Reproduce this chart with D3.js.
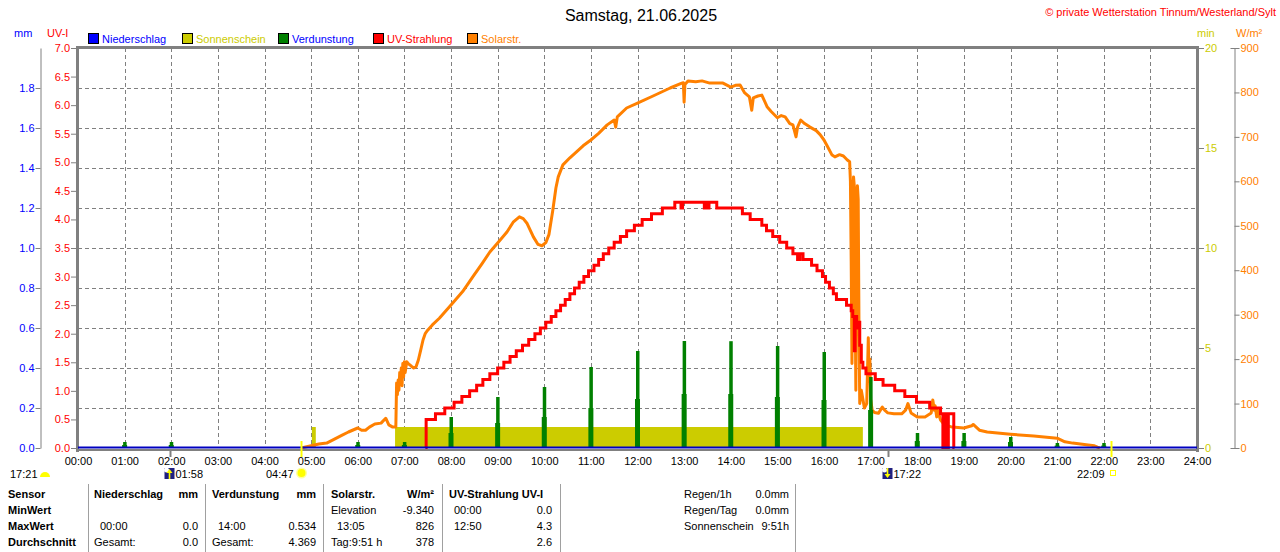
<!DOCTYPE html>
<html>
<head>
<meta charset="utf-8">
<script src="https://cdn.jsdelivr.net/npm/d3@7"></script>
<style>
body { margin: 0; background: #fff; }
svg { display: block; font-family: "Liberation Sans", Arial, sans-serif; font-size: 11px; }
</style>
</head>
<body>
<div id="chart"></div>
<script>
// ---- data ----
const title = "Samstag, 21.06.2025";
const credit = "\u00a9 private Wetterstation Tinnum/Westerland/Sylt";

const hourLabels = ["00:00","01:00","02:00","03:00","04:00","05:00","06:00","07:00","08:00",
    "09:00","10:00","11:00","12:00","13:00","14:00","15:00","16:00","17:00","18:00","19:00",
    "20:00","21:00","22:00","23:00","24:00"];

const uvTicks = [0, 0.5, 1, 1.5, 2, 2.5, 3, 3.5, 4, 4.5, 5, 5.5, 6, 6.5, 7];
const mmTicks = [0, 0.2, 0.4, 0.6, 0.8, 1.0, 1.2, 1.4, 1.6, 1.8];
const minTicks = [0, 5, 10, 15, 20];
const solTicks = [0, 100, 200, 300, 400, 500, 600, 700, 800, 900];

// Solarstrahlung W/m²
const solarTime = ["04:47","05:00","05:10","05:20","05:30","05:40","05:48","06:00","06:05","06:10",
    "06:15","06:22","06:30","06:36","06:40","06:45","06:49","06:50","06:51","06:52","06:53","06:54",
    "06:55","06:56","06:57","06:58","06:59","07:00","07:01","07:03","07:05","07:09","07:12","07:15",
    "07:18","07:21","07:24","07:27","07:30","07:36","07:45","08:00","08:15","08:28","08:40","08:50",
    "09:00","09:12","09:20","09:28","09:33","09:38","09:46","09:52","09:57","10:02","10:06","10:11",
    "10:15","10:18","10:24","10:33","10:50","11:00","11:10","11:21","11:30","11:32","11:34","11:46",
    "12:00","12:20","12:42","12:57","12:59","13:00","13:01","13:05","13:15","13:23","13:33","13:50",
    "14:00","14:06","14:12","14:18","14:24","14:27","14:29","14:35","14:40","14:47","14:52","15:00",
    "15:05","15:10","15:16","15:20","15:24","15:26","15:30","15:35","15:42","15:50","15:55","16:00",
    "16:04","16:10","16:14","16:20","16:25","16:30","16:33","16:34","16:35","16:36","16:37","16:38",
    "16:39","16:40","16:41","16:42","16:43","16:44","16:45","16:46","16:48","16:50","16:52","16:55",
    "16:57","16:58","16:59","17:00","17:02","17:05","17:10","17:15","17:18","17:22","17:30","17:40",
    "17:45","17:48","17:52","18:00","18:10","18:18","18:20","18:22","18:23","18:25","18:26","18:30",
    "18:35","18:45","19:00","19:10","19:12","19:20","19:30","20:00","20:30","21:00","21:10","21:20",
    "21:30","21:40","21:48","21:52","21:55"];
const solarValue = [0,5,9,11,20,29,36,45,40,40,
    47,54,56,67,52,47,47,146,120,153,130,170,
    150,180,140,190,160,194,170,194,190,184,180,183,
    198,220,243,258,265,277,292,322,352,385,415,441,
    461,486,508,520,516,505,475,458,455,462,480,535,
    585,610,637,653,680,693,708,727,738,722,745,765,
    776,792,810,821,822,778,818,826,824,826,821,821,
    812,816,817,799,790,760,788,792,794,767,757,743,
    748,745,730,727,700,722,738,730,722,714,705,693,
    680,660,655,660,657,648,644,600,420,190,560,610,
    590,350,130,560,590,560,280,100,130,110,90,100,
    248,150,200,110,85,80,78,92,85,79,77,77,
    85,100,79,70,70,79,108,85,95,70,85,63,
    52,47,45,50,53,40,36,31,27,22,14,11,
    9,7,5,2,0];

// UV-Strahlung UV-I (stepped)
const uvTime = ["07:27","07:28","07:40","07:52","08:04","08:14","08:24","08:33","08:41","08:50",
    "09:00","09:08","09:16","09:24","09:32","09:40","09:48","09:55","10:02","10:09","10:15",
    "10:21","10:27","10:33","10:39","10:45","10:51","10:57","11:04","11:10","11:16","11:23",
    "11:30","11:38","11:46","11:56","12:06","12:18","12:32","12:48","12:56","12:58","13:26",
    "13:28","13:30","13:32","13:42","14:15","14:25","14:40","14:46","14:54","15:03","15:12",
    "15:20","15:26","15:29","15:33","15:44","15:51","15:58","16:02","16:07","16:12","16:16",
    "16:29","16:35","16:37","16:39","16:40","16:42","16:44","16:46","16:48","16:50","16:54",
    "17:06","17:16","17:31","17:44","17:59","18:16","18:30","18:33","18:36","18:38","18:40",
    "18:47","18:48"];
const uvValue = [0,0.5,0.6,0.7,0.8,0.9,1.0,1.1,1.2,1.3,
    1.4,1.5,1.6,1.7,1.8,1.9,2.0,2.1,2.2,2.3,2.4,
    2.5,2.6,2.7,2.8,2.9,3.0,3.1,3.2,3.3,3.4,3.5,
    3.6,3.7,3.8,3.9,4.0,4.1,4.2,4.3,4.2,4.3,4.2,
    4.3,4.2,4.3,4.2,4.1,4.0,3.9,3.8,3.7,3.6,3.5,
    3.4,3.3,3.4,3.3,3.2,3.1,3.0,2.9,2.8,2.7,2.6,
    2.5,2.4,2.3,1.7,2.3,2.1,2.2,1.8,1.5,1.4,1.3,
    1.2,1.1,1.0,0.9,0.8,0.7,0.6,0,0.6,0,0.6,
    0,0];

// Verdunstung mm, hourly spikes (main and shoulder part)
const evapTime = ["01:00","02:00","06:00","07:00","08:00","09:00","10:00","11:00","12:00","13:00",
    "14:00","15:00","16:00","17:00","18:00","19:00","20:00","21:00","22:00"];
const evapMain = [0.03,0.03,0.03,0.03,0.155,0.255,0.305,0.405,0.485,0.535,
    0.534,0.51,0.48,0.355,0.075,0.075,0.055,0.025,0.025];
const evapShoulder = [0.015,0.015,0.015,0.015,0.075,0.125,0.155,0.2,0.245,0.27,
    0.27,0.255,0.24,0.19,0.035,0.035,0.03,0.012,0.012];

// Sonnenschein min
const sunFrom = ["05:01","06:48"];
const sunTo = ["05:06","16:50"];
const sunMin = [1.05, 1.05];

// Niederschlag mm
const rainTime = ["00:00","24:00"];
const rainValue = [0, 0];

// sun / moon events below the time axis
const eventTime = ["01:58","04:47","17:22","22:09"];
const eventKind = ["moonrise","sunrise","moonset","sunset"];

const legendNames = ["Niederschlag","Sonnenschein","Verdunstung","UV-Strahlung","Solarstr."];
const legendFill = ["#0000ff","#cccc00","#008000","#ff0000","#ff8000"];
const legendText = ["#0000ff","#cccc00","#0000ff","#ff0000","#ff8000"];

// table
const tableRowNames = ["Sensor","MinWert","MaxWert","Durchschnitt"];
const rainCells = [["Niederschlag","mm"],["",""],["00:00","0.0"],["Gesamt:","0.0"]];
const evapCells = [["Verdunstung","mm"],["",""],["14:00","0.534"],["Gesamt:","4.369"]];
const solCells = [["Solarstr.","W/m\u00b2"],["Elevation","-9.340"],["13:05","826"],["Tag:9:51 h","378"]];
const uvCells = [["UV-Strahlung UV-I",""],["00:00","0.0"],["12:50","4.3"],["","2.6"]];
const summaryNames = ["Regen/1h","Regen/Tag","Sonnenschein"];
const summaryValues = ["0.0mm","0.0mm","9:51h"];

// ---- layout ----
const width = 1280, height = 552;
const pL = 78, pR = 1197, pT = 48, pB = 448;
const grey = "#808080";

const toMin = s => +s.slice(0, 2) * 60 + +s.slice(3, 5);

const svg = d3.select("#chart").append("svg")
    .attr("width", width)
    .attr("height", height);

svg.append("rect").attr("width", width).attr("height", height).attr("fill", "#fff");

const x = d3.scaleLinear().domain([0, 1440]).range([pL, pR]);
const yUV = d3.scaleLinear().domain([0, 7]).range([pB, pT]);
const yMM = d3.scaleLinear().domain([0, 2]).range([pB, pT]);
const yMin = d3.scaleLinear().domain([0, 20]).range([pB, pT]);
const ySol = d3.scaleLinear().domain([0, 900]).range([pB, pT]);

// grid
svg.append("g").selectAll("line")
    .data(mmTicks.slice(1))
    .join("line")
    .attr("x1", pL).attr("x2", pR)
    .attr("y1", d => Math.round(yMM(d)) + 0.5).attr("y2", d => Math.round(yMM(d)) + 0.5)
    .attr("stroke", grey).attr("stroke-dasharray", "4,3");

svg.append("g").selectAll("line")
    .data(hourLabels.slice(1, -1))
    .join("line")
    .attr("x1", d => Math.round(x(toMin(d))) + 0.5).attr("x2", d => Math.round(x(toMin(d))) + 0.5)
    .attr("y1", pT).attr("y2", pB)
    .attr("stroke", grey).attr("stroke-dasharray", "4,3");

// sunshine
svg.append("g").selectAll("rect")
    .data(sunMin)
    .join("rect")
    .attr("x", (d, i) => x(toMin(sunFrom[i])))
    .attr("width", (d, i) => x(toMin(sunTo[i])) - x(toMin(sunFrom[i])))
    .attr("y", d => yMin(d))
    .attr("height", d => pB - yMin(d))
    .attr("fill", "#cccc00");

// solar radiation
const solarLine = d3.line()
    .x((d, i) => x(toMin(solarTime[i])))
    .y(d => ySol(d));

svg.append("path")
    .datum(solarValue)
    .attr("d", solarLine)
    .attr("fill", "none")
    .attr("stroke", "#ff8000")
    .attr("stroke-width", 3)
    .attr("stroke-linejoin", "round");

// UV
const uvLine = d3.line()
    .x((d, i) => x(toMin(uvTime[i])))
    .y(d => yUV(d))
    .curve(d3.curveStepAfter);

svg.append("path")
    .datum(uvValue)
    .attr("d", uvLine)
    .attr("fill", "none")
    .attr("stroke", "#ff0000")
    .attr("stroke-width", 3);

// evaporation
const evap = svg.append("g");
evap.selectAll(".shoulder")
    .data(evapShoulder)
    .join("rect")
    .attr("x", (d, i) => x(toMin(evapTime[i])) - 2.5)
    .attr("width", 5)
    .attr("y", d => yMM(d))
    .attr("height", d => pB - yMM(d))
    .attr("fill", "#008000");
evap.selectAll(".main")
    .data(evapMain)
    .join("rect")
    .attr("x", (d, i) => x(toMin(evapTime[i])) - 1.5)
    .attr("width", 3.5)
    .attr("y", d => yMM(d))
    .attr("height", d => pB - yMM(d))
    .attr("fill", "#008000");

// frame
svg.append("line").attr("x1", pL).attr("x2", pR).attr("y1", pB + 2).attr("y2", pB + 2)
    .attr("stroke", grey).attr("stroke-width", 2);
svg.append("path")
    .attr("d", `M${pL - 0.5},${pB + 4}V${pT - 0.5}H${pR + 0.5}V${pB + 4}`)
    .attr("fill", "none").attr("stroke", grey).attr("stroke-width", 3);

// rain baseline
svg.append("path")
    .datum(rainValue)
    .attr("d", d3.line().x((d, i) => x(toMin(rainTime[i]))).y(d => yMM(d) - 0.5))
    .attr("stroke", "#0000c0")
    .attr("stroke-width", 2);

// axes
function style(g, color) {
    g.selectAll(".tick line").attr("stroke", grey);
    g.selectAll(".tick text").attr("fill", color).attr("font-size", 11)
        .attr("font-family", "Liberation Sans, Arial, sans-serif");
}

const uvAxis = svg.append("g")
    .attr("transform", `translate(${pL - 2},0)`)
    .call(d3.axisLeft(yUV).tickValues(uvTicks).tickFormat(d3.format(".1f")).tickSize(5).tickPadding(1));
uvAxis.select(".domain").remove();
style(uvAxis, "#ff0000");

const mmAxis = svg.append("g")
    .attr("transform", "translate(40.5,0)")
    .call(d3.axisLeft(yMM).tickValues(mmTicks).tickFormat(d3.format(".1f")).tickSize(5).tickSizeOuter(0).tickPadding(1));
mmAxis.select(".domain").attr("stroke", grey);
style(mmAxis, "#0000ff");

const minAxis = svg.append("g")
    .attr("transform", `translate(${pR + 2},0)`)
    .call(d3.axisRight(yMin).tickValues(minTicks).tickSize(5).tickPadding(1));
minAxis.select(".domain").remove();
style(minAxis, "#cccc00");

const solAxis = svg.append("g")
    .attr("transform", "translate(1234.5,0)")
    .call(d3.axisRight(ySol).tickValues(solTicks).tickSize(5).tickSizeOuter(0).tickPadding(1));
solAxis.select(".domain").attr("stroke", grey);
solAxis.selectAll(".tick").filter(d => d === 0 || d === 900).select("line").attr("x1", -4);
style(solAxis, "#ff8000");

const timeAxis = svg.append("g")
    .attr("transform", `translate(0,${pB + 1})`)
    .call(d3.axisBottom(x).tickValues(hourLabels.map(toMin)).tickFormat((d, i) => hourLabels[i]).tickSize(0).tickPadding(8));
timeAxis.select(".domain").remove();
style(timeAxis, "#000");

// axis units
const units = [["mm", 14, "#0000ff"], ["UV-I", 47, "#ff0000"], ["min", 1197, "#cccc00"], ["W/m\u00b2", 1236, "#ff8000"]];
svg.append("g").selectAll("text")
    .data(units)
    .join("text")
    .attr("x", d => d[1]).attr("y", 37)
    .attr("fill", d => d[2])
    .text(d => d[0]);

// legend
const legendX = [88, 182, 278, 373, 467];
const legend = svg.append("g").selectAll("g")
    .data(legendNames)
    .join("g")
    .attr("transform", (d, i) => `translate(${legendX[i]},33)`);
legend.append("rect")
    .attr("x", 0.5).attr("y", 0.5).attr("width", 10).attr("height", 10)
    .attr("fill", (d, i) => legendFill[i]).attr("stroke", "#000");
legend.append("text")
    .attr("x", 14).attr("y", 9.5)
    .attr("fill", (d, i) => legendText[i])
    .text(d => d);

// title and credit
svg.append("text").attr("x", 641).attr("y", 21).attr("text-anchor", "middle")
    .attr("font-size", 16).text(title);
svg.append("text").attr("x", 1276).attr("y", 16).attr("text-anchor", "end")
    .attr("fill", "#ff0000").text(credit);

// sun and moon events
const ev = svg.append("g");
eventTime.forEach((t, i) => {
    const ex = Math.round(x(toMin(t))) + 0.5;
    const kind = eventKind[i];
    const sun = kind === "sunrise" || kind === "sunset";
    ev.append("line")
        .attr("x1", ex).attr("x2", ex)
        .attr("y1", sun ? pB - 7 : pB + 1).attr("y2", pB + 9)
        .attr("stroke", sun ? "#ffff00" : grey).attr("stroke-width", 2);
    if (kind === "moonrise" || kind === "moonset") {
        const bx = ex - 6;
        ev.append("rect").attr("x", bx).attr("y", 468).attr("width", 10).attr("height", 11).attr("fill", "#202080");
        ev.append("circle").attr("cx", bx + 2).attr("cy", 470).attr("r", 2.5).attr("fill", "#fff");
        const up = kind === "moonrise";
        ev.append("path")
            .attr("d", up ? `M${bx + 5},${469}l-3,4h6z` : `M${bx + 5},${478}l-3,-4h6z`)
            .attr("fill", "#ffff00");
        ev.append("rect").attr("x", bx + 4.2).attr("y", up ? 473 : 468).attr("width", 1.6).attr("height", 6).attr("fill", "#ffff00");
        ev.append("text").attr("x", bx + 11).attr("y", 478).text(t);
    } else if (kind === "sunrise") {
        ev.append("circle").attr("cx", ex).attr("cy", 473).attr("r", 5.5).attr("fill", "#ffffa0");
        ev.append("circle").attr("cx", ex).attr("cy", 473).attr("r", 4).attr("fill", "#ffff00");
        ev.append("text").attr("x", ex - 8).attr("y", 478).attr("text-anchor", "end").text(t);
    } else {
        ev.append("rect").attr("x", ex - 1).attr("y", 470.5).attr("width", 5).attr("height", 5)
            .attr("fill", "none").attr("stroke", "#ffff00");
        ev.append("text").attr("x", ex - 7).attr("y", 478).attr("text-anchor", "end").text(t);
    }
});
// moon icon at the left edge
ev.append("text").attr("x", 10).attr("y", 478).text("17:21");
ev.append("path").attr("d", "M40,477a5,5 0 0 1 10,0z").attr("fill", "#ffff00");

// table
const rowY = [498, 514, 530, 546];
const tbl = svg.append("g");
[88, 205, 323, 442, 560, 795].forEach(sx => {
    tbl.append("line").attr("x1", sx + 0.5).attr("x2", sx + 0.5).attr("y1", 484).attr("y2", 552)
        .attr("stroke", "#a0a0a0");
});
tableRowNames.forEach((n, r) => {
    tbl.append("text").attr("x", 8).attr("y", rowY[r]).attr("font-weight", "bold").text(n);
});
function column(cells, lx, lxData, rx) {
    cells.forEach((c, r) => {
        const head = r === 0;
        tbl.append("text").attr("x", head || r === 3 || c[0] === "Elevation" ? lx : lxData)
            .attr("y", rowY[r]).attr("font-weight", head ? "bold" : null).text(c[0]);
        tbl.append("text").attr("x", rx).attr("y", rowY[r]).attr("text-anchor", "end")
            .attr("font-weight", head ? "bold" : null).text(c[1]);
    });
}
column(rainCells, 94, 100, 198);
column(evapCells, 212, 218, 316);
column(solCells, 331, 337, 434);
column(uvCells, 449, 454, 552);
summaryNames.forEach((n, r) => {
    tbl.append("text").attr("x", 684).attr("y", rowY[r]).text(n);
    tbl.append("text").attr("x", 789).attr("y", rowY[r]).attr("text-anchor", "end").text(summaryValues[r]);
});
</script>
</body>
</html>
